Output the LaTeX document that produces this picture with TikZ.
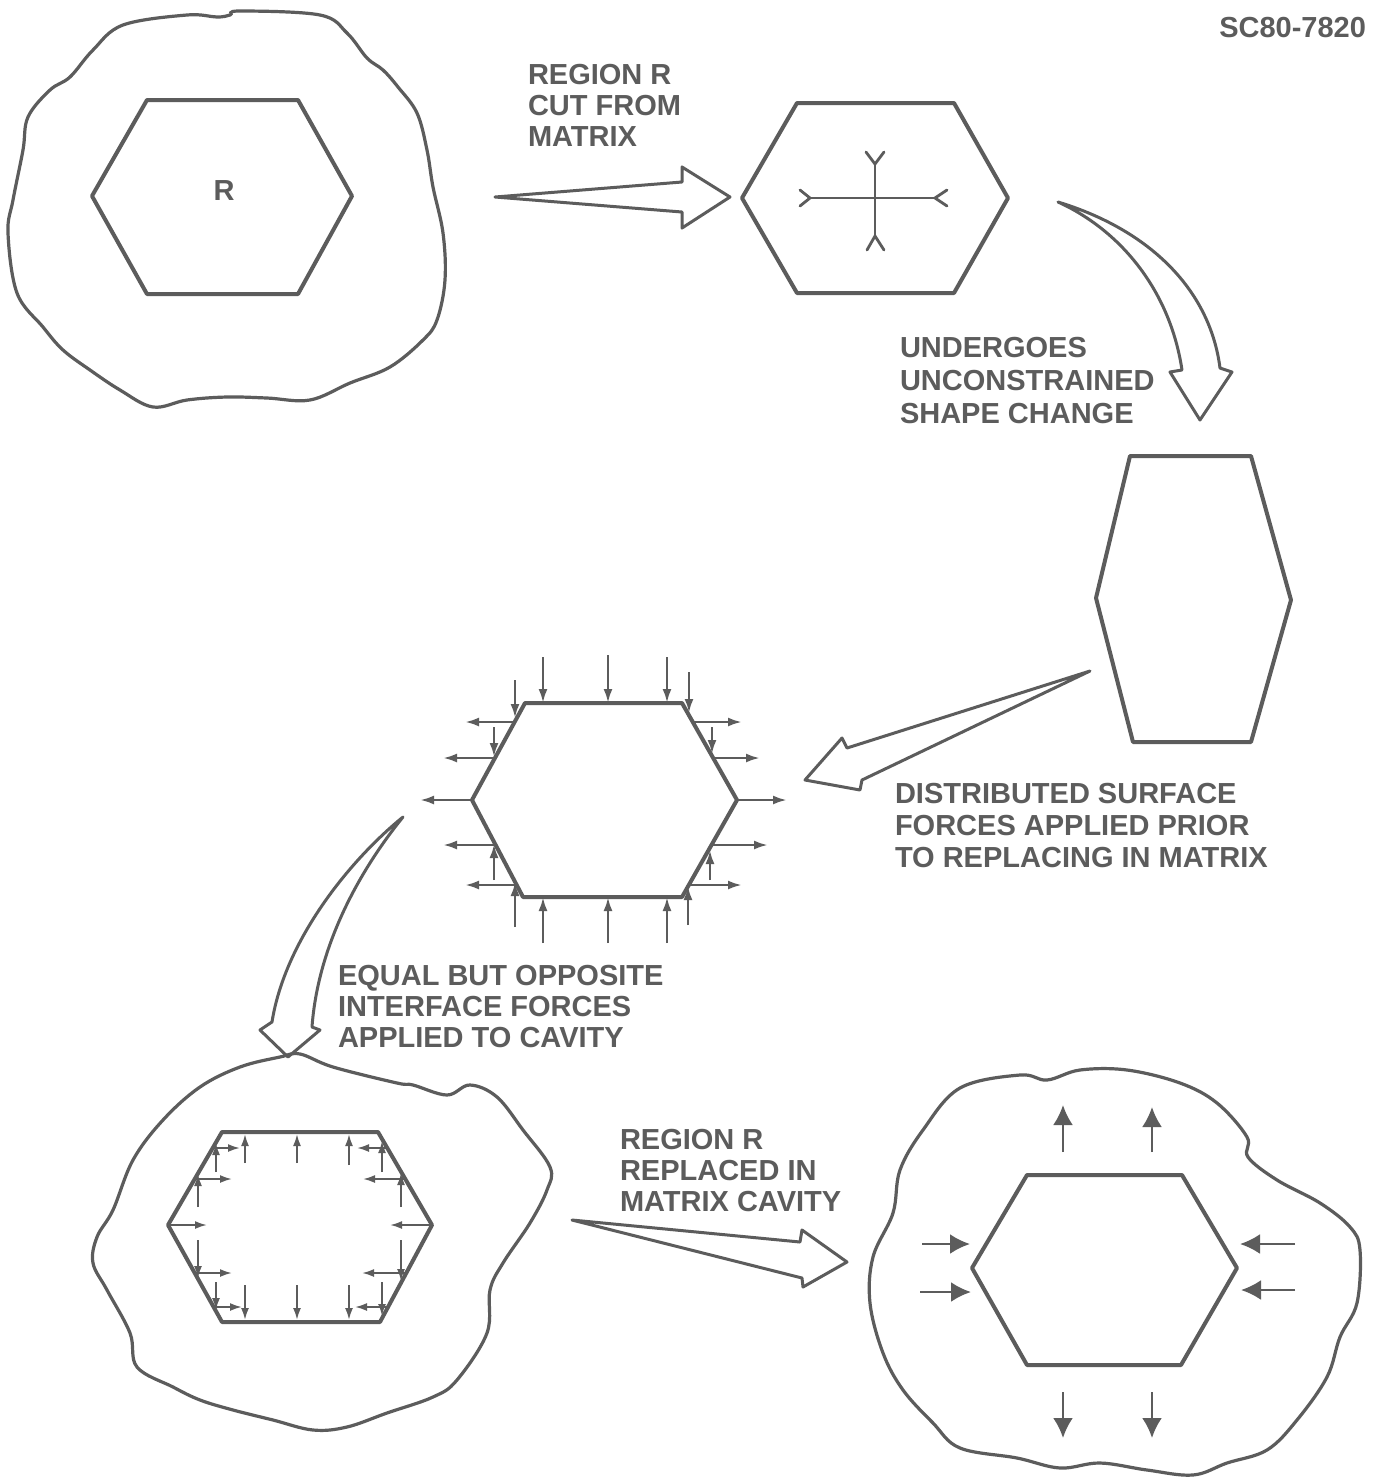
\documentclass[tikz,border=0pt]{standalone}
\usepackage{fontspec}
\setsansfont{Liberation Sans}
\usetikzlibrary{arrows.meta}
\definecolor{inkgray}{RGB}{92,92,92}

\begin{document}
\begin{tikzpicture}[x=.5pt,y=-.5pt,
  hexline/.style={draw=inkgray,line width=2pt,line join=round},
  blobline/.style={draw=inkgray,line width=1.6pt},
  hollow/.style={draw=inkgray,line width=1.5pt,line join=round},
  prong/.style={draw=inkgray,line width=1.4pt,line cap=round},
  force/.style={draw=inkgray,line width=1.3pt,-{Latex[length=7pt,width=4.5pt]}},
  smallforce/.style={draw=inkgray,line width=1pt,-{Latex[length=6pt,width=4pt]}},
  bigforce/.style={draw=inkgray,line width=1.3pt,-{Latex[length=10pt,width=10pt]}},
  lbl/.style={inner sep=0pt,outer sep=0pt,anchor=base west,text=inkgray,font=\sffamily\bfseries\fontsize{14.5}{17.4}\selectfont}]
\path[use as bounding box] (0,0) rectangle (1377,1480);
\path[fill=white,draw=none] (0,0) rectangle (1377,1480);
\node[lbl,anchor=base east] (tag) at (1366,37) {SC80-7820};

% matrix with region R
\draw[blobline] plot[smooth cycle,tension=0.6] coordinates {(123,25) (187,15) (217,17) (230,15) (240,11) (320,15) (347,33) (367,58) (383,70) (398,87) (417,113) (427,150) (433,187) (443,233) (445,280) (437,320) (423,340) (390,367) (350,383) (310,400) (267,398) (227,397) (187,400) (153,407) (120,390) (90,370) (63,350) (43,327) (17,293) (8,233) (13,200) (23,150) (28,117) (50,90) (70,77) (93,50)};
\draw[hexline] (147,100) -- (298,100) -- (352,196) -- (298,294) -- (147,294) -- (92,196) -- cycle;
\node[lbl,anchor=base] (regionR) at (224,200) {R};

% cut out
\draw[hollow] (495,197) -- (682,182) -- (682,167) -- (730,197) -- (682,228) -- (682,212) -- cycle;
\node[lbl] (cut1) at (528,84) {REGION R};
\node[lbl] (cut2) at (528,115) {CUT FROM};
\node[lbl] (cut3) at (528,146) {MATRIX};

% free region
\draw[hexline] (797,103) -- (954,103) -- (1008,198) -- (954,293) -- (797,293) -- (742,198) -- cycle;
\draw[prong] (810,198) -- (935,198);
\draw[prong] (875,164) -- (875,236);
\draw[prong] (800,190) -- (810,198) -- (800,206);
\draw[prong] (947,190) -- (935,198) -- (947,206);
\draw[prong] (866,152) -- (875,164) -- (884,152);
\draw[prong] (867,250) -- (875,236) -- (884,250);

% shape change
\draw[hollow] (1058,202) .. controls (1150,230) and (1210,290) .. (1220,368)
  -- (1232,372) -- (1200,420) -- (1170,372) -- (1182,370)
  .. controls (1170,290) and (1120,230) .. (1058,202) -- cycle;
\node[lbl] (shape1) at (900,357) {UNDERGOES};
\node[lbl] (shape2) at (900,390) {UNCONSTRAINED};
\node[lbl] (shape3) at (900,423) {SHAPE CHANGE};

\draw[hexline] (1130,456) -- (1251,456) -- (1291,600) -- (1251,742) -- (1133,742) -- (1096,598) -- cycle;

% surface forces
\draw[hollow] (1090,671) -- (847,748) -- (842,738) -- (805,780) -- (860,790) -- (862,780) -- cycle;
\node[lbl] (dist1) at (895,803) {DISTRIBUTED SURFACE};
\node[lbl] (dist2) at (895,835) {FORCES APPLIED PRIOR};
\node[lbl] (dist3) at (895,867) {TO REPLACING IN MATRIX};

\draw[hexline] (525,703) -- (682,703) -- (737,800) -- (682,897) -- (523,897) -- (472,800) -- cycle;
\foreach \xa/\ya/\xb/\yb in {543/657/543/703, 608/655/608/703, 667/657/667/703, 515/680/515/718, 689/672/689/713,
    494/727/494/757, 712/727/712/754,
    543/943/543/897, 608/943/608/897, 667/943/667/897, 515/927/515/882, 688/925/688/886,
    494/880/494/844, 710/880/710/850,
    515/722/465/722, 495/758/443/758, 472/800/420/800, 496/845/443/845, 517/885/465/885,
    693/722/742/722, 713/758/760/758, 737/800/787/800, 712/845/768/845, 689/885/742/885}
  \draw[force] (\xa,\ya) -- (\xb,\yb);

% back to the cavity
\draw[hollow] (403,817) .. controls (350,860) and (285,940) .. (272,1022)
  -- (260,1030) -- (288,1057) -- (320,1030) -- (312,1027)
  .. controls (318,945) and (360,870) .. (403,817) -- cycle;
\node[lbl] (equal1) at (338,985) {EQUAL BUT OPPOSITE};
\node[lbl] (equal2) at (338,1016) {INTERFACE FORCES};
\node[lbl] (equal3) at (338,1047) {APPLIED TO CAVITY};

\draw[blobline] plot[smooth cycle,tension=0.6] coordinates {(280,1057) (300,1054) (333,1067) (397,1083) (413,1085) (447,1095) (470,1085) (497,1097) (523,1130) (550,1167) (547,1190) (530,1223) (503,1263) (490,1290) (487,1333) (457,1380) (433,1397) (387,1413) (347,1427) (313,1430) (273,1420) (233,1410) (200,1400) (173,1387) (137,1367) (130,1333) (107,1290) (93,1263) (97,1237) (113,1210) (133,1160) (163,1120) (200,1087) (240,1067)};
\draw[hexline] (222,1132) -- (378,1132) -- (432,1225) -- (380,1322) -- (222,1322) -- (168,1225) -- cycle;
\foreach \xa/\ya/\xb/\yb in {245/1163/245/1134, 297/1163/297/1134, 349/1165/349/1134,
    245/1285/245/1320, 297/1285/297/1320, 349/1285/349/1320,
    213/1148/240/1148, 387/1148/357/1148, 195/1179/232/1179, 405/1179/363/1179,
    168/1225/207/1225, 432/1225/390/1225, 195/1273/232/1273, 406/1273/362/1273,
    214/1307/242/1307, 388/1307/355/1307,
    216/1172/216/1143, 198/1207/198/1174, 382/1172/382/1141, 401/1207/401/1173,
    198/1240/198/1278, 216/1282/216/1310, 401/1240/401/1281, 382/1282/382/1316}
  \draw[smallforce] (\xa,\ya) -- (\xb,\yb);

% replaced
\draw[hollow] (572,1220) -- (800,1242) -- (802,1230) -- (847,1262) -- (803,1287) -- (802,1278) -- cycle;
\node[lbl] (repl1) at (620,1149) {REGION R};
\node[lbl] (repl2) at (620,1180) {REPLACED IN};
\node[lbl] (repl3) at (620,1211) {MATRIX CAVITY};

\draw[blobline] plot[smooth cycle,tension=0.6] coordinates {(960,1088) (1020,1075) (1047,1080) (1080,1070) (1127,1070) (1180,1083) (1217,1103) (1247,1137) (1248,1157) (1277,1180) (1320,1203) (1350,1227) (1360,1250) (1357,1303) (1340,1337) (1327,1377) (1297,1420) (1267,1450) (1227,1463) (1193,1475) (1147,1470) (1100,1463) (1060,1468) (1017,1458) (960,1448) (933,1423) (903,1390) (883,1353) (870,1303) (873,1257) (893,1213) (900,1170) (923,1130)};
\draw[hexline] (1027,1175) -- (1182,1175) -- (1237,1268) -- (1181,1365) -- (1027,1365) -- (972,1268) -- cycle;
\foreach \xa/\ya/\xb/\yb in {1063/1152/1063/1105, 1152/1152/1152/1107,
    1063/1392/1063/1438, 1152/1392/1152/1438,
    922/1244/970/1244, 920/1292/971/1292,
    1295/1244/1240/1244, 1295/1290/1241/1290}
  \draw[bigforce] (\xa,\ya) -- (\xb,\yb);
\end{tikzpicture}
\end{document}
